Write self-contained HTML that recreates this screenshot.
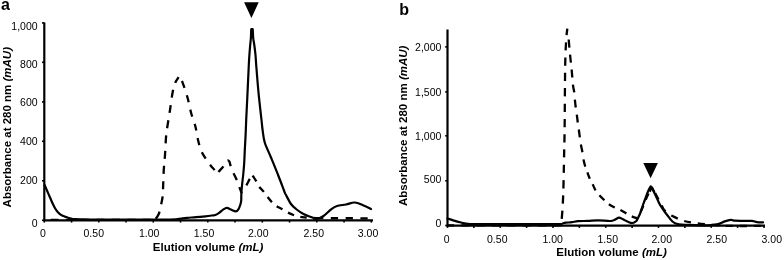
<!DOCTYPE html>
<html><head><meta charset="utf-8"><title>Chromatograms</title>
<style>html,body{margin:0;padding:0;background:#fff}svg{display:block}</style></head>
<body>
<svg width="784" height="260" viewBox="0 0 784 260">
<rect width="784" height="260" fill="#fff"/>
<path d="M44.3,22.5 V220.3 H373" fill="none" stroke="#000" stroke-width="2.2"/>
<path d="M44.30,220.3 v2.3" stroke="#000" stroke-width="1.6"/>
<path d="M71.55,220.3 v2.3" stroke="#000" stroke-width="1.6"/>
<path d="M98.80,220.3 v2.3" stroke="#000" stroke-width="1.6"/>
<path d="M126.05,220.3 v2.3" stroke="#000" stroke-width="1.6"/>
<path d="M153.30,220.3 v2.3" stroke="#000" stroke-width="1.6"/>
<path d="M180.55,220.3 v2.3" stroke="#000" stroke-width="1.6"/>
<path d="M207.80,220.3 v2.3" stroke="#000" stroke-width="1.6"/>
<path d="M235.05,220.3 v2.3" stroke="#000" stroke-width="1.6"/>
<path d="M262.30,220.3 v2.3" stroke="#000" stroke-width="1.6"/>
<path d="M289.55,220.3 v2.3" stroke="#000" stroke-width="1.6"/>
<path d="M316.80,220.3 v2.3" stroke="#000" stroke-width="1.6"/>
<path d="M344.05,220.3 v2.3" stroke="#000" stroke-width="1.6"/>
<path d="M371.30,220.3 v2.3" stroke="#000" stroke-width="1.6"/>
<path d="M44.3,220.30 h-2.3" stroke="#000" stroke-width="1.6"/>
<path d="M44.3,180.80 h-2.3" stroke="#000" stroke-width="1.6"/>
<path d="M44.3,141.30 h-2.3" stroke="#000" stroke-width="1.6"/>
<path d="M44.3,101.90 h-2.3" stroke="#000" stroke-width="1.6"/>
<path d="M44.3,62.30 h-2.3" stroke="#000" stroke-width="1.6"/>
<path d="M44.3,22.90 h-2.3" stroke="#000" stroke-width="1.6"/>

<path d="M447.5,29.5 V225.6 H765" fill="none" stroke="#000" stroke-width="2.2"/>
<path d="M447.50,225.6 v2.3" stroke="#000" stroke-width="1.6"/>
<path d="M473.88,225.6 v2.3" stroke="#000" stroke-width="1.6"/>
<path d="M500.25,225.6 v2.3" stroke="#000" stroke-width="1.6"/>
<path d="M526.62,225.6 v2.3" stroke="#000" stroke-width="1.6"/>
<path d="M553.00,225.6 v2.3" stroke="#000" stroke-width="1.6"/>
<path d="M579.38,225.6 v2.3" stroke="#000" stroke-width="1.6"/>
<path d="M605.75,225.6 v2.3" stroke="#000" stroke-width="1.6"/>
<path d="M632.12,225.6 v2.3" stroke="#000" stroke-width="1.6"/>
<path d="M658.50,225.6 v2.3" stroke="#000" stroke-width="1.6"/>
<path d="M684.88,225.6 v2.3" stroke="#000" stroke-width="1.6"/>
<path d="M711.25,225.6 v2.3" stroke="#000" stroke-width="1.6"/>
<path d="M737.62,225.6 v2.3" stroke="#000" stroke-width="1.6"/>
<path d="M764.00,225.6 v2.3" stroke="#000" stroke-width="1.6"/>
<path d="M447.5,225.50 h-2.3" stroke="#000" stroke-width="1.6"/>
<path d="M447.5,180.80 h-2.3" stroke="#000" stroke-width="1.6"/>
<path d="M447.5,135.80 h-2.3" stroke="#000" stroke-width="1.6"/>
<path d="M447.5,91.90 h-2.3" stroke="#000" stroke-width="1.6"/>
<path d="M447.5,46.90 h-2.3" stroke="#000" stroke-width="1.6"/>

<path id="adu" d="M178.60,77.20 C178.27,77.72 177.20,79.25 176.60,80.30 C176.00,81.35 175.67,81.47 175.00,83.50 C174.33,85.53 173.43,88.08 172.60,92.50 C171.77,96.92 170.93,103.92 170.00,110.00 C169.07,116.08 167.67,124.42 167.00,129.00 C166.33,133.58 166.33,133.17 166.00,137.50 C165.67,141.83 165.38,149.58 165.00,155.00 C164.62,160.42 164.08,164.17 163.75,170.00 C163.42,175.83 163.21,185.42 163.00,190.00 C162.79,194.58 162.83,195.00 162.50,197.50 C162.17,200.00 161.62,202.25 161.00,205.00 C160.38,207.75 159.75,211.53 158.75,214.00 C157.75,216.47 155.62,218.83 155.00,219.80 C154.17,219.80 159.17,219.80 150.00,219.80 C140.83,219.80 117.50,219.80 100.00,219.80 C82.50,219.80 54.17,219.80 45.00,219.80" fill="none" stroke="#000" stroke-width="2.3" stroke-dasharray="8 7.3" stroke-dashoffset="1.2" stroke-linejoin="round"/>
<path id="add" d="M178.60,77.20 C178.93,77.60 179.95,78.75 180.60,79.60 C181.25,80.45 181.35,79.32 182.50,82.30 C183.65,85.28 186.08,92.47 187.50,97.50 C188.92,102.53 189.75,107.92 191.00,112.50 C192.25,117.08 194.07,121.75 195.00,125.00 C195.93,128.25 196.03,129.25 196.60,132.00 C197.17,134.75 197.58,138.25 198.40,141.50 C199.22,144.75 200.30,148.67 201.50,151.50 C202.70,154.33 204.02,156.08 205.60,158.50 C207.18,160.92 209.57,164.15 211.00,166.00 C212.43,167.85 213.22,168.23 214.20,169.60 C215.18,170.97 216.45,173.43 216.90,174.20 C217.22,173.75 217.72,172.82 218.80,171.50 C219.88,170.18 222.15,168.02 223.40,166.30 C224.65,164.58 225.53,162.20 226.30,161.20 C227.07,160.20 227.47,160.20 228.00,160.30 C228.53,160.40 229.10,160.98 229.50,161.80 C229.90,162.62 229.87,163.58 230.40,165.20 C230.93,166.82 231.75,169.28 232.70,171.50 C233.65,173.72 235.15,176.28 236.10,178.50 C237.05,180.72 237.72,182.98 238.40,184.80 C239.08,186.62 239.70,188.10 240.20,189.40 C240.70,190.70 241.20,192.07 241.40,192.60 C241.67,192.23 242.23,191.50 243.00,190.40 C243.77,189.30 244.93,187.80 246.00,186.00 C247.07,184.20 248.40,181.47 249.40,179.60 C250.40,177.73 251.57,175.60 252.00,174.80" fill="none" stroke="#000" stroke-width="2.3" stroke-dasharray="7.3 7.5" stroke-dashoffset="9.6" stroke-linejoin="round"/>
<path id="add2" d="M252.00,174.80 C252.72,175.88 255.20,179.43 256.30,181.30 C257.40,183.17 257.40,184.30 258.60,186.00 C259.80,187.70 261.93,189.58 263.50,191.50 C265.07,193.42 266.47,195.58 268.00,197.50 C269.53,199.42 271.25,201.53 272.70,203.00 C274.15,204.47 275.17,205.30 276.70,206.30 C278.23,207.30 280.13,208.00 281.90,209.00 C283.67,210.00 285.37,211.30 287.30,212.30 C289.23,213.30 291.32,214.23 293.50,215.00 C295.68,215.77 298.28,216.48 300.40,216.90 C302.52,217.32 303.60,217.28 306.20,217.50 C308.80,217.72 314.37,218.08 316.00,218.20" fill="none" stroke="#000" stroke-width="2.3" stroke-dasharray="6.6 6.4" stroke-dashoffset="11.7" stroke-linejoin="round"/>
<path id="adt" d="M316.00,218.20 L372.00,218.30" fill="none" stroke="#000" stroke-width="2.3" stroke-dasharray="7.3 7.5" stroke-dashoffset="0" stroke-linejoin="round"/>
<path d="M44.60,185.00 C45.00,185.92 46.13,188.50 47.00,190.50 C47.87,192.50 48.90,194.92 49.80,197.00 C50.70,199.08 51.50,201.08 52.40,203.00 C53.30,204.92 54.32,207.00 55.20,208.50 C56.08,210.00 56.80,210.98 57.70,212.00 C58.60,213.02 59.63,213.92 60.60,214.60 C61.57,215.28 62.47,215.65 63.50,216.10 C64.53,216.55 65.72,216.93 66.80,217.30 C67.88,217.67 68.63,217.98 70.00,218.30 C71.37,218.62 71.67,219.00 75.00,219.20 C78.33,219.40 82.50,219.45 90.00,219.50 C97.50,219.55 110.00,219.50 120.00,219.50 C130.00,219.50 141.67,219.50 150.00,219.50 C158.33,219.50 165.67,219.53 170.00,219.50 C174.33,219.47 174.17,219.45 176.00,219.30 C177.83,219.15 179.17,218.85 181.00,218.60 C182.83,218.35 184.50,218.03 187.00,217.80 C189.50,217.57 192.93,217.45 196.00,217.20 C199.07,216.95 202.73,216.58 205.40,216.30 C208.07,216.02 210.33,215.72 212.00,215.50 C213.67,215.28 214.15,215.48 215.40,215.00 C216.65,214.52 218.22,213.50 219.50,212.60 C220.78,211.70 221.87,210.38 223.10,209.60 C224.33,208.82 225.62,207.92 226.90,207.90 C228.18,207.88 229.32,208.92 230.80,209.50 C232.28,210.08 234.52,211.47 235.80,211.40 C237.08,211.33 237.73,210.25 238.50,209.10 C239.27,207.95 239.95,205.92 240.40,204.50 C240.85,203.08 241.05,202.02 241.20,200.60 C241.35,199.18 241.23,197.77 241.30,196.00 C241.37,194.23 241.38,192.67 241.60,190.00 C241.82,187.33 242.33,182.50 242.60,180.00 C242.87,177.50 242.93,177.83 243.20,175.00 C243.47,172.17 243.93,167.17 244.20,163.00 C244.47,158.83 244.57,154.67 244.80,150.00 C245.03,145.33 245.37,140.00 245.60,135.00 C245.83,130.00 245.92,126.25 246.20,120.00 C246.48,113.75 246.87,106.67 247.30,97.50 C247.73,88.33 248.45,72.08 248.80,65.00 C249.15,57.92 249.17,58.33 249.40,55.00 C249.63,51.67 249.95,47.83 250.20,45.00 C250.45,42.17 250.75,40.17 250.90,38.00 C251.05,35.83 251.03,33.47 251.10,32.00 C251.17,30.53 251.27,29.67 251.30,29.20 L252.70,29.20 C252.73,29.67 252.82,30.53 252.90,32.00 C252.98,33.47 252.97,35.83 253.20,38.00 C253.43,40.17 253.92,42.17 254.30,45.00 C254.68,47.83 255.18,51.67 255.50,55.00 C255.82,58.33 255.70,58.75 256.20,65.00 C256.70,71.25 257.62,83.33 258.50,92.50 C259.38,101.67 260.82,113.75 261.50,120.00 C262.18,126.25 262.06,126.25 262.60,130.00 C263.14,133.75 263.35,137.92 264.75,142.50 C266.15,147.08 268.71,151.92 271.00,157.50 C273.29,163.08 276.21,170.17 278.50,176.00 C280.79,181.83 283.50,189.33 284.75,192.50 C286.00,195.67 284.96,193.08 286.00,195.00 C287.04,196.92 289.33,201.67 291.00,204.00 C292.67,206.33 293.92,207.33 296.00,209.00 C298.08,210.67 301.00,212.67 303.50,214.00 C306.00,215.33 308.75,216.17 311.00,217.00 C313.25,217.83 314.92,219.17 317.00,219.00 C319.08,218.83 321.17,217.58 323.50,216.00 C325.83,214.42 328.75,211.17 331.00,209.50 C333.25,207.83 334.50,206.83 337.00,206.00 C339.50,205.17 343.04,205.08 346.00,204.50 C348.96,203.92 351.83,202.33 354.75,202.50 C357.67,202.67 360.79,204.42 363.50,205.50 C366.21,206.58 369.75,208.42 371.00,209.00" fill="none" stroke="#000" stroke-width="2.2" stroke-linejoin="round" stroke-linecap="round"/>
<path id="bdu" d="M567.30,28.60 C567.12,30.50 566.55,33.93 566.20,40.00 C565.85,46.07 565.47,50.00 565.20,65.00 C564.93,80.00 564.78,115.00 564.60,130.00 C564.42,145.00 564.33,144.17 564.10,155.00 C563.87,165.83 563.58,184.50 563.20,195.00 C562.82,205.50 562.25,212.97 561.80,218.00 C561.35,223.03 560.72,224.00 560.50,225.20 C559.58,225.22 565.08,225.28 555.00,225.30 C544.92,225.32 517.92,225.30 500.00,225.30 C482.08,225.30 456.25,225.30 447.50,225.30" fill="none" stroke="#000" stroke-width="2.3" stroke-dasharray="8.2 7.1" stroke-dashoffset="1.5" stroke-linejoin="round"/>
<path id="bdd1" d="M568.70,39.50 C568.85,41.25 569.28,46.58 569.60,50.00 C569.92,53.42 570.25,56.67 570.60,60.00 C570.95,63.33 571.32,65.88 571.70,70.00 C572.08,74.12 572.48,81.03 572.90,84.70 C573.32,88.37 573.87,89.45 574.20,92.00 C574.53,94.55 574.65,97.50 574.90,100.00 C575.15,102.50 575.38,104.60 575.70,107.00 C576.02,109.40 576.47,111.90 576.80,114.40 C577.13,116.90 577.37,119.48 577.70,122.00 C578.03,124.52 578.45,126.98 578.80,129.50 C579.15,132.02 579.45,134.58 579.80,137.10 C580.15,139.62 580.48,142.20 580.90,144.60 C581.32,147.00 581.85,148.93 582.30,151.50 C582.75,154.07 583.38,158.58 583.60,160.00" fill="none" stroke="#000" stroke-width="2.3" stroke-dasharray="8 7.1" stroke-dashoffset="0" stroke-linejoin="round"/>
<path id="bdd2" d="M583.60,160.00 C583.85,161.00 584.45,163.88 585.10,166.00 C585.75,168.12 586.68,170.50 587.50,172.70 C588.32,174.90 589.10,177.18 590.00,179.20 C590.90,181.22 591.97,182.93 592.90,184.80 C593.83,186.67 594.48,188.63 595.60,190.40 C596.72,192.17 597.97,193.60 599.60,195.40 C601.23,197.20 603.87,199.73 605.40,201.20 C606.93,202.67 607.27,203.15 608.80,204.20 C610.33,205.25 612.77,206.57 614.60,207.50 C616.43,208.43 617.88,208.83 619.80,209.80 C621.72,210.77 624.23,212.27 626.10,213.30 C627.97,214.33 629.18,215.17 631.00,216.00 C632.82,216.83 636.00,217.92 637.00,218.30 C637.42,217.58 638.60,215.72 639.50,214.00 C640.40,212.28 641.38,210.33 642.40,208.00 C643.42,205.67 644.62,202.33 645.60,200.00 C646.58,197.67 647.50,195.70 648.30,194.00 C649.10,192.30 649.80,190.90 650.40,189.80 C651.00,188.70 651.65,187.80 651.90,187.40" fill="none" stroke="#000" stroke-width="2.3" stroke-dasharray="6.8 6.2" stroke-dashoffset="0" stroke-linejoin="round"/>
<path id="bdd3" d="M651.90,187.40 C652.23,187.93 653.17,189.28 653.90,190.60 C654.63,191.92 655.48,193.73 656.30,195.30 C657.12,196.87 657.93,198.38 658.80,200.00 C659.67,201.62 660.55,203.27 661.50,205.00 C662.45,206.73 662.75,208.60 664.50,210.40 C666.25,212.20 668.92,214.10 672.00,215.80 C675.08,217.50 679.50,219.43 683.00,220.60 C686.50,221.77 688.83,222.15 693.00,222.80 C697.17,223.45 702.17,223.98 708.00,224.50 C713.83,225.02 718.67,225.67 728.00,225.90 C737.33,226.13 758.00,225.90 764.00,225.90" fill="none" stroke="#000" stroke-width="2.3" stroke-dasharray="7.2 6.8" stroke-dashoffset="7.3" stroke-linejoin="round"/>
<path d="M447.50,218.50 C448.58,218.85 451.75,219.93 454.00,220.60 C456.25,221.27 458.33,221.93 461.00,222.50 C463.67,223.07 463.50,223.72 470.00,224.00 C476.50,224.28 488.33,224.17 500.00,224.20 C511.67,224.23 530.00,224.23 540.00,224.20 C550.00,224.17 556.17,224.17 560.00,224.00 C563.83,223.83 562.00,223.42 563.00,223.20 C564.00,222.98 564.50,222.87 566.00,222.70 C567.50,222.53 570.00,222.45 572.00,222.20 C574.00,221.95 575.33,221.42 578.00,221.20 C580.67,220.98 584.67,221.05 588.00,220.90 C591.33,220.75 594.25,220.28 598.00,220.30 C601.75,220.32 607.67,221.12 610.50,221.00 C613.33,220.88 613.58,220.15 615.00,219.60 C616.42,219.05 617.67,217.75 619.00,217.70 C620.33,217.65 621.50,218.62 623.00,219.30 C624.50,219.98 626.42,221.18 628.00,221.80 C629.58,222.42 631.17,223.08 632.50,223.00 C633.83,222.92 635.08,222.13 636.00,221.30 C636.92,220.47 637.28,219.38 638.00,218.00 C638.72,216.62 639.53,215.00 640.30,213.00 C641.07,211.00 641.85,208.17 642.60,206.00 C643.35,203.83 644.07,202.00 644.80,200.00 C645.53,198.00 646.30,195.78 647.00,194.00 C647.70,192.22 648.38,190.58 649.00,189.30 C649.62,188.02 650.42,186.80 650.70,186.30 C651.02,186.80 651.88,187.97 652.60,189.30 C653.32,190.63 654.15,192.52 655.00,194.30 C655.85,196.08 656.70,197.98 657.70,200.00 C658.70,202.02 659.23,203.65 661.00,206.40 C662.77,209.15 665.97,213.70 668.30,216.50 C670.63,219.30 671.72,221.80 675.00,223.20 C678.28,224.60 682.50,224.55 688.00,224.90 C693.50,225.25 703.00,225.43 708.00,225.30 C713.00,225.17 715.33,224.72 718.00,224.10 C720.67,223.48 721.87,222.32 724.00,221.60 C726.13,220.88 728.97,219.95 730.80,219.80 C732.63,219.65 732.63,220.53 735.00,220.70 C737.37,220.87 742.17,220.77 745.00,220.80 C747.83,220.83 750.00,220.68 752.00,220.90 C754.00,221.12 755.17,221.85 757.00,222.10 C758.83,222.35 762.00,222.35 763.00,222.40" fill="none" stroke="#000" stroke-width="2.2" stroke-linejoin="round" stroke-linecap="round"/>
<path d="M649.6,191.6 L651.9,187.4 L654.4,192.2" fill="none" stroke="#000" stroke-width="2.3" stroke-linejoin="round"/>
<path d="M244.1,2.3 h14.6 l-7.3,15.8z" fill="#000"/>
<path d="M643.3,162.9 h14.6 l-7.3,15.4z" fill="#000"/>
<g font-family="'Liberation Sans', sans-serif" fill="#000">
<text x="1.1" y="10" font-size="16" font-weight="bold">a</text>
<text x="399.2" y="14.8" font-size="16" font-weight="bold">b</text>
<g font-size="10.5" text-anchor="end">
<text x="37.6" y="29.5">1,000</text>
<text x="37.6" y="68.1">800</text>
<text x="37.6" y="106.4">600</text>
<text x="37.6" y="145.2">400</text>
<text x="37.6" y="183.5">200</text>
<text x="37.6" y="227">0</text>
<text x="441.4" y="50.5">2,000</text>
<text x="441.4" y="96.4">1,500</text>
<text x="441.4" y="139.9">1,000</text>
<text x="441.4" y="183.3">500</text>
<text x="441.4" y="227.1">0</text>
</g>
<g font-size="10.5" text-anchor="middle">
<text x="43" y="237.4">0</text>
<text x="93.75" y="237.4">0.50</text>
<text x="149.2" y="237.4">1.00</text>
<text x="204" y="237.4">1.50</text>
<text x="258.25" y="237.4">2.00</text>
<text x="313.75" y="237.4">2.50</text>
<text x="368" y="237.4">3.00</text>
<text x="446.6" y="243.0">0</text>
<text x="497.25" y="243.0">0.50</text>
<text x="552.6" y="243.0">1.00</text>
<text x="607.75" y="243.0">1.50</text>
<text x="661.75" y="243.0">2.00</text>
<text x="716.75" y="243.0">2.50</text>
<text x="771.75" y="243.0">3.00</text>
</g>
<g font-size="11.5" font-weight="bold">
<text x="152.8" y="251.0">Elution volume <tspan font-style="italic">(mL)</tspan></text>
<text x="556.3" y="256.2">Elution volume <tspan font-style="italic">(mL)</tspan></text>
<text transform="translate(11.2,207.4) rotate(-90)">Absorbance at 280 nm <tspan font-style="italic">(mAU)</tspan></text>
<text transform="translate(407.4,206.0) rotate(-90)">Absorbance at 280 nm <tspan font-style="italic">(mAU)</tspan></text>
</g>
</g>
</svg>
</body></html>
